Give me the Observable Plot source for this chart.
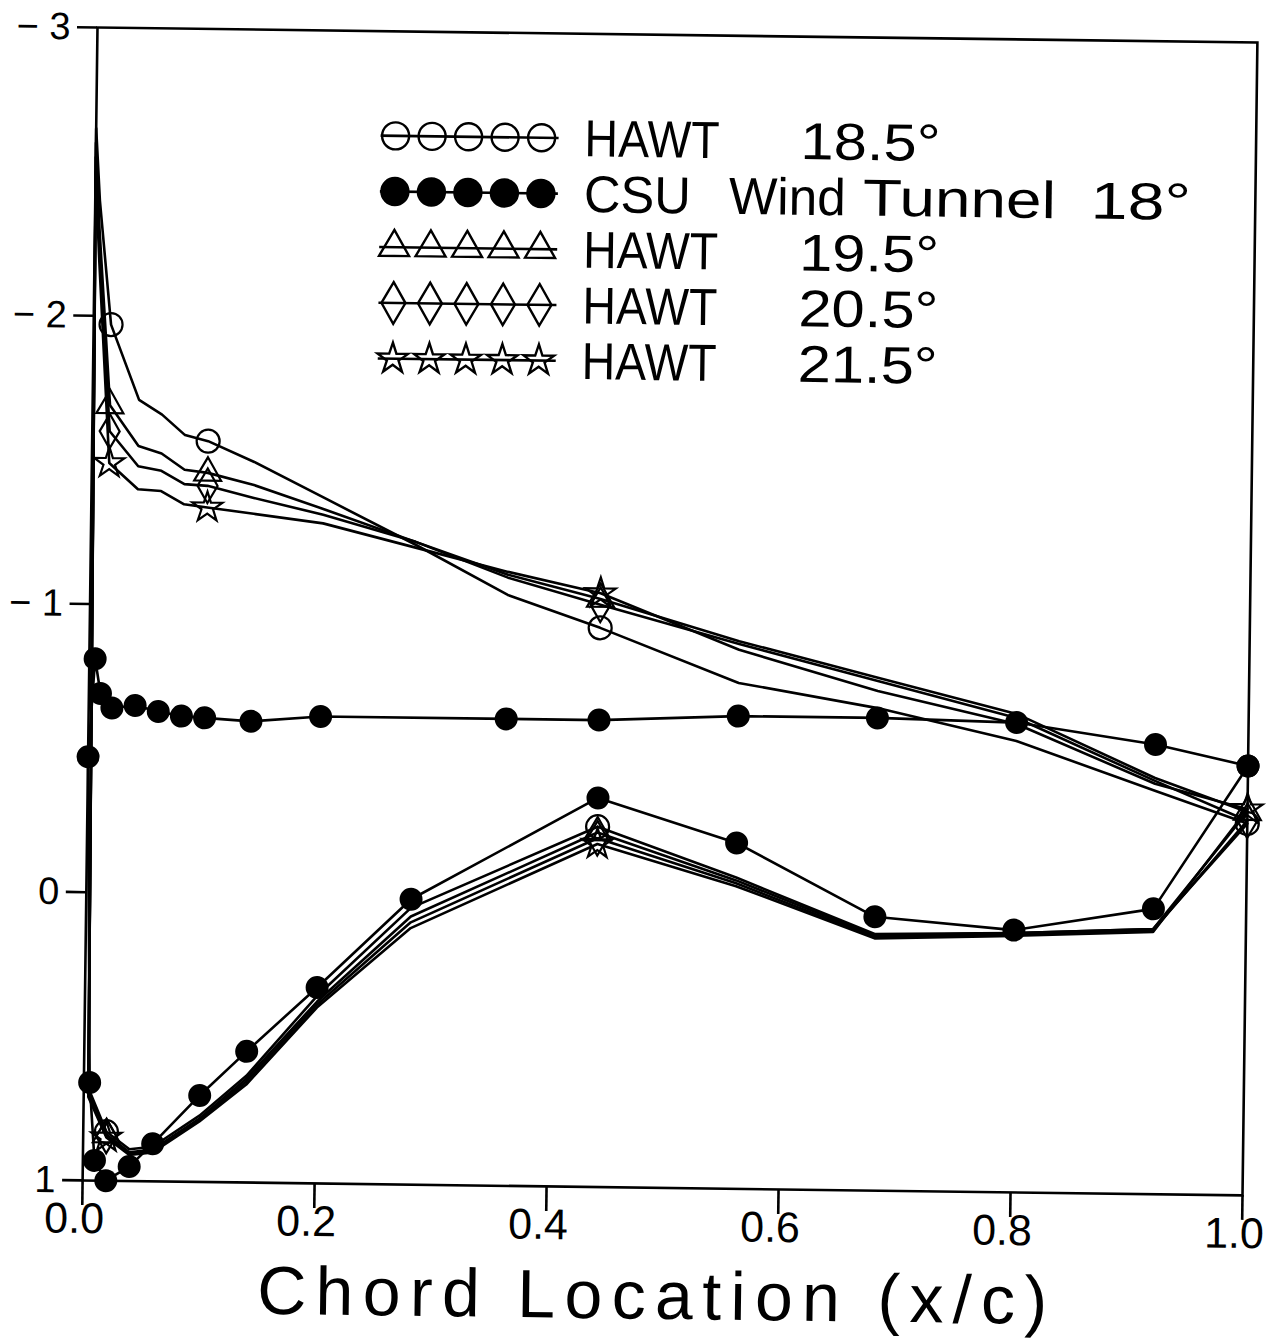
<!DOCTYPE html>
<html><head><meta charset="utf-8">
<script src="https://cdn.jsdelivr.net/npm/d3@7"></script>
<script src="https://cdn.jsdelivr.net/npm/@observablehq/plot@0.6"></script>
<style>
body{margin:0;background:#fff;}
#wrap{position:relative;width:1268px;height:1338px;transform:rotate(0.74deg);transform-origin:97px 27px;}
#wrap svg{position:absolute;left:0;top:0;}
</style></head><body><div id="wrap"></div>
<script>
// ---- axes / labels ----
const xTicks = [0, 0.2, 0.4, 0.6, 0.8, 1.0];
const yTicks = [-3, -2, -1, 0, 1];
const xLabel = "Chord Location (x/c)";

// ---- CSU wind tunnel 18° (surface path: upper TE -> LE -> lower TE) ----
const csuX  = [1.00, 0.92, 0.80, 0.68, 0.56, 0.44, 0.36, 0.20, 0.14, 0.10, 0.08, 0.06, 0.04, 0.02, 0.01, 0.005, 0.0,
               0.005, 0.01, 0.02, 0.04, 0.06, 0.10, 0.14, 0.20, 0.28, 0.44, 0.56, 0.68, 0.80, 0.92, 1.00];
const csuCp = [-0.49, -0.56, -0.63, -0.64, -0.64, -0.62, -0.62, -0.62, -0.60, -0.61, -0.615, -0.63, -0.65, -0.64, -0.69, -0.81, -0.47,
               0.66, 0.93, 1.00, 0.95, 0.87, 0.70, 0.545, 0.32, 0.01, -0.35, -0.20, 0.05, 0.09, 0.01, -0.49];

// ---- HAWT (surface path: upper TE -> LE -> lower TE) ----
const hawtX = [1.00, 0.92, 0.80, 0.68, 0.56, 0.44, 0.36, 0.28, 0.20, 0.14, 0.10, 0.08, 0.06, 0.04, 0.015, 0.004, 0.00,
               0.004, 0.02, 0.04, 0.06, 0.10, 0.14, 0.20, 0.28, 0.44, 0.56, 0.68, 0.80, 0.92, 1.00];
const hawt185 = [-0.29, -0.40, -0.566, -0.674, -0.755, -0.94, -1.05, -1.22, -1.38, -1.50, -1.57, -1.59, -1.66, -1.71, -1.97, -2.40, -2.65,
                 0.68, 0.83, 0.89, 0.88, 0.77, 0.63, 0.35, 0.04, -0.25, -0.08, 0.11, 0.10, 0.08, -0.29];
const hawt195 = [-0.33, -0.444, -0.66, -0.779, -0.90, -1.04, -1.12, -1.23, -1.34, -1.42, -1.46, -1.47, -1.525, -1.55, -1.69, -2.30, -2.60,
                 0.69, 0.84, 0.90, 0.89, 0.78, 0.64, 0.37, 0.07, -0.23, -0.07, 0.115, 0.10, 0.08, -0.33];
const hawt205 = [-0.30, -0.434, -0.646, -0.768, -0.89, -1.02, -1.11, -1.23, -1.32, -1.375, -1.415, -1.42, -1.465, -1.48, -1.60, -2.25, -2.55,
                 0.70, 0.845, 0.905, 0.895, 0.785, 0.65, 0.38, 0.09, -0.21, -0.06, 0.12, 0.105, 0.085, -0.30];
const hawt215 = [-0.34, -0.424, -0.625, -0.733, -0.87, -1.06, -1.13, -1.21, -1.29, -1.32, -1.34, -1.35, -1.395, -1.40, -1.49, -2.20, -2.50,
                 0.71, 0.85, 0.91, 0.90, 0.79, 0.66, 0.39, 0.11, -0.19, -0.05, 0.125, 0.11, 0.09, -0.34];
const hawtMarkerIdx = [0, 5, 10, 14, 18, 25];

// ---- legend ----
const seriesNames = ["HAWT 18.5°", "CSU Wind Tunnel 18°", "HAWT 19.5°", "HAWT 20.5°", "HAWT 21.5°"];
const seriesSymbols = ["circle", "circle", "triangle", "diamond", "star"];
const seriesFilled = [false, true, false, false, false];

// ---- build tables ----
const csuRows = csuX.map((x, i) => ({x, cp: csuCp[i]}));
const hawtSets = [
  {name: seriesNames[0], cp: hawt185, symbol: "circle", r: 11.5},
  {name: seriesNames[2], cp: hawt195, symbol: "triangle", r: 10},
  {name: seriesNames[3], cp: hawt205, symbol: "diamond", r: 10.5},
  {name: seriesNames[4], cp: hawt215, symbol: "star", r: 9.5}
].map(s => ({...s, rows: hawtX.map((x, i) => ({x, cp: s.cp[i], marker: hawtMarkerIdx.includes(i)}))}));

const FONT = "'Liberation Sans', Arial, sans-serif";
const LW = 2.6;

const marks = [Plot.frame({stroke: "black", strokeWidth: LW})];
for (const s of hawtSets) {
  marks.push(Plot.line(s.rows, {x: "x", y: "cp", stroke: "black", strokeWidth: LW, curve: "linear"}));
  marks.push(Plot.dot(s.rows.filter(d => d.marker), {x: "x", y: "cp", symbol: () => s.symbol, r: s.r, stroke: "black", strokeWidth: 2.2, fill: "none"}));
}
marks.push(Plot.line(csuRows, {x: "x", y: "cp", stroke: "black", strokeWidth: LW}));
marks.push(Plot.dot(csuRows, {x: "x", y: "cp", r: 11.5, fill: "black", stroke: "none"}));
marks.push(Plot.axisX(xTicks, {tickSize: 25, tickPadding: -3, fontSize: 43, strokeWidth: LW, tickFormat: d3.format(".1f"), label: null}));
marks.push(Plot.axisY(yTicks, {tickSize: 20, tickPadding: 7, fontSize: 38, strokeWidth: LW, tickFormat: d => d < 0 ? "\u2212 " + (-d) : String(d), label: null}));
marks.push(Plot.text([xLabel], {text: d => d, frameAnchor: "bottom", dy: 131, dx: -9, fontSize: 68}));

const chart = Plot.plot({
  width: 1268, height: 1338,
  marginLeft: 97, marginRight: 11, marginTop: 27, marginBottom: 158,
  x: {domain: [0, 1]},
  y: {domain: [-3, 1], reverse: true},
  style: {fontFamily: FONT, background: "white", color: "black", overflow: "visible"},
  marks
});
const wrap = document.getElementById("wrap");
wrap.appendChild(chart);
chart.querySelectorAll("text").forEach(t => {
  if (t.textContent === xLabel) { t.setAttribute("textLength", 790); t.setAttribute("lengthAdjust", "spacing"); }
});
chart.querySelectorAll('g[aria-label="x-axis tick label"]').forEach(g => {
  const tr = g.getAttribute("transform") || "";
  g.setAttribute("transform", "translate(-8,0) " + tr);
});

// ---- legend overlay ----
const legendWords = [
  [["HAWT", 586, 135], ["18.5°", 802, 140]],
  [["CSU", 586, 107], ["Wind", 731, 117], ["Tunnel", 865, 193], ["18°", 1093, 100]],
  [["HAWT", 586, 135], ["19.5°", 802, 140]],
  [["HAWT", 586, 135], ["20.5°", 802, 140]],
  [["HAWT", 586, 135], ["21.5°", 802, 140]]
];
const symTypes = {circle: d3.symbolCircle, triangle: d3.symbolTriangle, diamond: d3.symbolDiamond, star: d3.symbolStar};
const symSizes = {circle: Math.PI * 13.5 * 13.5, triangle: 390, diamond: 500, star: 290};
const leg = d3.create("svg").attr("width", 1268).attr("height", 1338).style("pointer-events", "none");
const rowY0 = 132, rowStep = 55.7;
seriesNames.forEach((name, i) => {
  const cy = rowY0 + i * rowStep;
  const g = leg.append("g");
  g.append("line").attr("x1", 382).attr("x2", 560).attr("y1", cy).attr("y2", cy).attr("stroke", "black").attr("stroke-width", LW);
  for (let k = 0; k < 5; k++) {
    const cx = 397 + k * 36.5;
    g.append("path")
      .attr("d", d3.symbol(symTypes[seriesSymbols[i]], symSizes[seriesSymbols[i]])())
      .attr("transform", `translate(${cx},${cy})`)
      .attr("fill", seriesFilled[i] ? "black" : "none")
      .attr("stroke", "black").attr("stroke-width", 2.4);
  }
  for (const [w, x, len] of legendWords[i]) {
    g.append("text").attr("x", x).attr("y", cy + 18).attr("font-family", FONT).attr("font-size", 52)
      .attr("textLength", len).attr("lengthAdjust", "spacingAndGlyphs").text(w);
  }
});
wrap.appendChild(leg.node());
</script>
</body></html>
